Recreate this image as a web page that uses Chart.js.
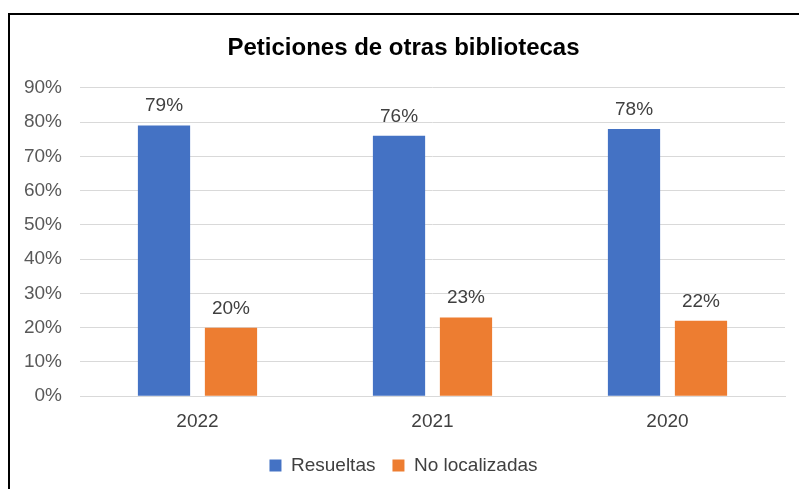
<!DOCTYPE html>
<html>
<head>
<meta charset="utf-8">
<script src="https://cdn.jsdelivr.net/npm/chart.js@4"></script>
<style>
  html, body { margin: 0; padding: 0; background: #fff; }
  #wrap { position: relative; width: 799px; height: 489px; }
  #frame {
    position: absolute; left: 8px; top: 13px; right: 0; bottom: 0;
    border-left: 2px solid #000; border-top: 2px solid #000;
    pointer-events: none;
  }
</style>
</head>
<body>
<div id="wrap">
  <canvas id="chart" width="799" height="489"></canvas>
  <div id="frame"></div>
</div>
<script>
// chart data
const years = ['2022', '2021', '2020'];
const resueltas = [79, 76, 78];
const noLocalizadas = [20, 23, 22];
const yTicks = [0, 10, 20, 30, 40, 50, 60, 70, 80, 90];

const FONT = "'Liberation Sans', Arial, sans-serif";

// draws the percentage above every bar
const valueLabels = {
  id: 'valueLabels',
  afterDatasetsDraw(chart) {
    const ctx = chart.ctx;
    ctx.save();
    ctx.font = '19px ' + FONT;
    ctx.fillStyle = '#404040';
    ctx.textAlign = 'center';
    ctx.textBaseline = 'alphabetic';
    chart.data.datasets.forEach((ds, i) => {
      chart.getDatasetMeta(i).data.forEach((bar, j) => {
        ctx.fillText(ds.data[j] + '%', bar.x, bar.y - 14);
      });
    });
    ctx.restore();
  }
};

new Chart(document.getElementById('chart'), {
  type: 'bar',
  data: {
    labels: years,
    datasets: [
      {
        label: 'Resueltas',
        data: resueltas,
        backgroundColor: '#4472C4',
        categoryPercentage: 0.57,
        barPercentage: 0.78
      },
      {
        label: 'No localizadas',
        data: noLocalizadas,
        backgroundColor: '#ED7D31',
        categoryPercentage: 0.57,
        barPercentage: 0.78
      }
    ]
  },
  options: {
    responsive: false,
    animation: false,
    layout: { padding: { left: 22, right: 14, top: 0, bottom: 4 } },
    plugins: {
      title: {
        display: true,
        text: 'Peticiones de otras bibliotecas',
        color: '#000',
        font: { family: FONT, size: 24, weight: 'bold' },
        padding: { top: 34, bottom: 25 }
      },
      legend: {
        position: 'bottom',
        labels: {
          color: '#404040',
          font: { family: FONT, size: 19 },
          boxWidth: 12,
          boxHeight: 12,
          padding: 17
        }
      },
      tooltip: { enabled: false }
    },
    scales: {
      x: {
        grid: { display: false },
        border: { color: '#d9d9d9' },
        ticks: { color: '#404040', font: { family: FONT, size: 19 }, padding: 6 }
      },
      y: {
        min: 0,
        max: 90,
        afterBuildTicks(scale) {
          scale.ticks = yTicks.map(v => ({ value: v }));
        },
        afterFit(scale) { scale.width = 58; },
        grid: { color: '#d9d9d9', drawTicks: false },
        border: { display: false },
        ticks: {
          color: '#595959',
          font: { family: FONT, size: 19 },
          padding: 18,
          callback: v => v + '%'
        }
      }
    }
  },
  plugins: [valueLabels]
});
</script>
</body>
</html>
